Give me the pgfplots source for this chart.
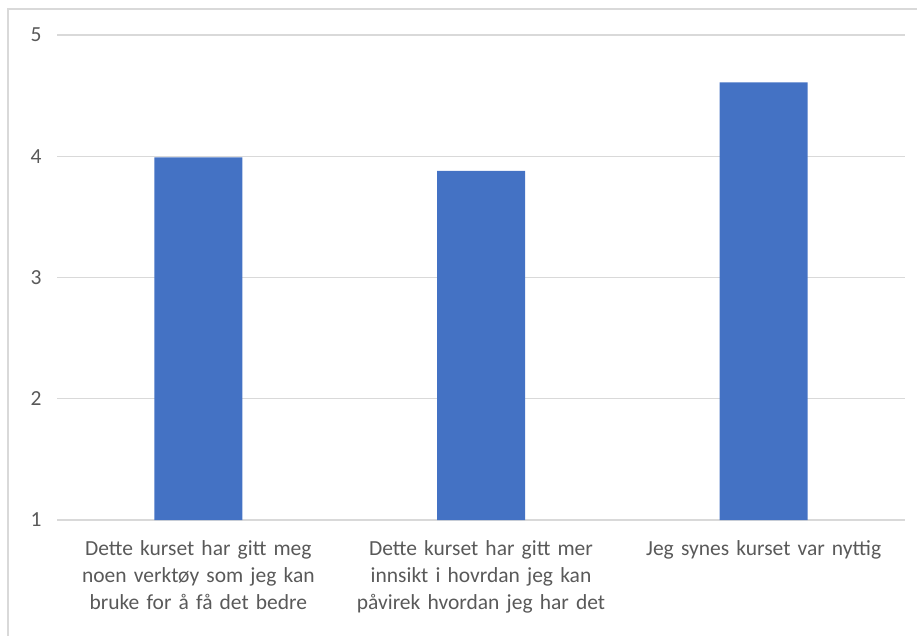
\documentclass[border=0pt]{standalone}
\usepackage{pgfplots}
\pgfplotsset{compat=1.18}
\usepackage{fontspec}
\setmainfont{Carlito}
\definecolor{barblue}{HTML}{4472C4}
\definecolor{gridgray}{HTML}{D9D9D9}
\definecolor{labgray}{HTML}{595959}
\begin{document}
\begin{tikzpicture}[x=1pt,y=1pt]
\useasboundingbox (0,0) rectangle (917,635);
\draw[gridgray, line width=1.5pt] (8,-5) -- (8,626) -- (925,626);
\begin{axis}[
  at={(57pt,115pt)}, anchor=south west,
  scale only axis, width=848pt, height=485pt,
  xmin=-0.5, xmax=2.5, ymin=1, ymax=5,
  axis line style={draw=none},
  ytick={1,2,3,4,5},
  xtick=data,
  xticklabels={{Dette kurset har gitt meg noen verktøy som jeg kan bruke for å få det bedre},{Dette kurset har gitt mer innsikt i hovrdan jeg kan påvirek hvordan jeg har det},{Jeg synes kurset var nyttig}},
  major tick length=0pt,
  ymajorgrids, grid style={gridgray, line width=1.2pt},
  /pgf/number format/assume math mode=true,
  tick label style={font=\fontsize{21.5}{27}\selectfont, text=labgray},
  yticklabel style={xshift=-12pt},
  xticklabel style={text width=270pt, align=center, anchor=north, yshift=-17pt},
  clip=false,
]
\addplot[ybar, bar width=88pt, fill=barblue, draw=none] coordinates {(0,3.99) (1,3.88) (2,4.61)};
\end{axis}
\end{tikzpicture}
\end{document}
